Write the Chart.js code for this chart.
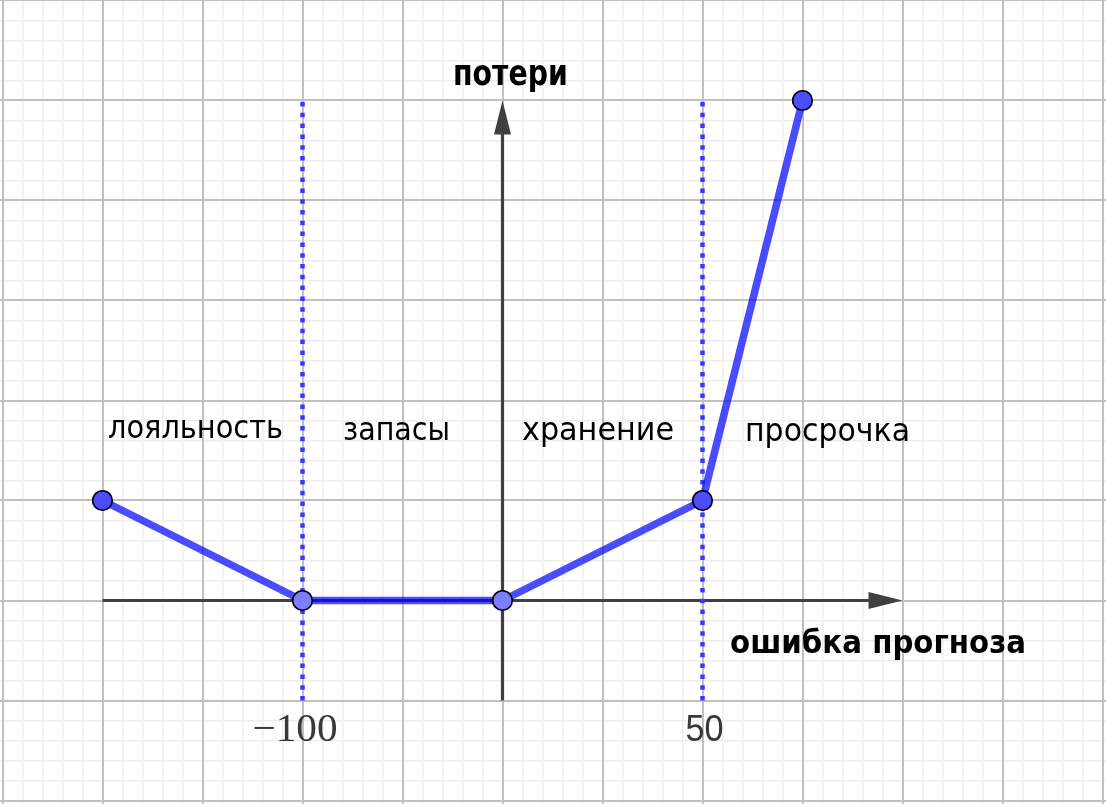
<!DOCTYPE html>
<html>
<head>
<meta charset="utf-8">
<script src="https://cdn.jsdelivr.net/npm/chart.js@4"></script>
<style>
  html, body { margin: 0; padding: 0; background: #ffffff; }
  #wrap { width: 1106px; height: 804px; position: relative; }
</style>
</head>
<body>
<div id="wrap"><canvas id="c" width="1106" height="804"></canvas></div>
<script>
// ---- data (in grid units: one major grid cell = 1) ----
const regionLabels = ['лояльность', 'запасы', 'хранение', 'просрочка'];
const lossX = [-4, -2, 0, 2, 3];
const lossY = [1, 0, 0, 1, 5];
const boundaryX = [-2, 2];
const boundaryYFrom = -1;
const boundaryYTo = 5;
const tickValues = [-2, 2];
const tickLabels = ['−100', '50'];
const xAxisTitle = 'ошибка прогноза';
const yAxisTitle = 'потери';
const axisXRange = [-4, 4];
const axisYRange = [-1, 5];

// ---- view ----
const X_MIN = -5.025, X_MAX = 6.035;
const Y_MIN = -2.035, Y_MAX = 6.005;

function buildTicks(min, max, major) {
  const out = [];
  for (let k = Math.ceil(min * 5); k <= Math.floor(max * 5); k++) {
    const isMajor = k % 5 === 0;
    if (isMajor === major) out.push({ value: k / 5 });
  }
  return out;
}

function gridScale(axis, min, max, major) {
  return {
    type: 'linear',
    axis: axis,
    min: min,
    max: max,
    display: true,
    position: axis === 'x' ? 'bottom' : 'left',
    z: major ? -1 : -2,
    ticks: { display: false, padding: 0 },
    border: { display: false },
    grid: {
      drawTicks: false,
      tickLength: 0,
      color: major ? '#c0c0c0' : '#eeeeee',
      lineWidth: major ? 2 : 1.5
    },
    afterBuildTicks: (s) => { s.ticks = buildTicks(min, max, major); }
  };
}

const lossPoints = lossX.map((x, i) => ({ x: x, y: lossY[i] }));
const pointFill = lossY.map(v => v === 0 ? 'rgb(125,125,255)' : 'rgb(77,77,255)');

const boundarySets = boundaryX.map(x => ({
  label: 'граница',
  data: [{ x: x, y: boundaryYFrom }, { x: x, y: boundaryYTo }],
  showLine: true,
  borderColor: 'rgb(55,55,255)',
  borderWidth: 4.5,
  borderDash: [4.5, 6.3],
  borderCapStyle: 'butt',
  pointRadius: 0,
  order: 2
}));

const textLabels = [
  { text: regionLabels[0], x: -3.945, y: 1.625, w: 175, font: '32px "DejaVu Sans"' },
  { text: regionLabels[1], x: -1.595, y: 1.605, w: 107, font: '32px "DejaVu Sans"' },
  { text: regionLabels[2], x: 0.195, y: 1.605, w: 152, font: '32px "DejaVu Sans"' },
  { text: regionLabels[3], x: 2.425, y: 1.595, w: 165, font: '32px "DejaVu Sans"' },
  { text: yAxisTitle, x: -0.495, y: 5.155, w: 115, font: 'bold 35px "DejaVu Sans"' },
  { text: xAxisTitle, x: 2.275, y: -0.525, w: 296, font: 'bold 32px "DejaVu Sans"' }
];
const tickStyle = [
  { dx: -7.5, y: -1.405, w: 85, font: '40px "Liberation Serif"' },
  { dx: 2, y: -1.405, w: 38, font: '36px "Liberation Sans"' }
];

function fitText(ctx, text, px, py, w, font, color, align) {
  ctx.save();
  ctx.font = font;
  ctx.fillStyle = color;
  ctx.textBaseline = 'alphabetic';
  const m = ctx.measureText(text).width;
  const s = w / m;
  ctx.translate(align === 'center' ? px - w / 2 : px, py);
  ctx.scale(s, 1);
  ctx.textAlign = 'left';
  ctx.fillText(text, 0, 0);
  ctx.restore();
}

const decor = {
  id: 'decor',
  beforeDatasetsDraw(chart) {
    const ctx = chart.ctx, xs = chart.scales.x, ys = chart.scales.y;
    const ox = xs.getPixelForValue(0), oy = ys.getPixelForValue(0);
    const color = 'rgb(64,64,64)';
    ctx.save();
    ctx.strokeStyle = color;
    ctx.fillStyle = color;
    ctx.lineWidth = 3.2;
    // x axis
    const x0 = xs.getPixelForValue(axisXRange[0]), x1 = xs.getPixelForValue(axisXRange[1]);
    ctx.beginPath(); ctx.moveTo(x0, oy); ctx.lineTo(x1 - 30, oy); ctx.stroke();
    ctx.beginPath(); ctx.moveTo(x1, oy); ctx.lineTo(x1 - 34, oy - 8.5); ctx.lineTo(x1 - 34, oy + 8.5); ctx.closePath(); ctx.fill();
    // y axis
    const y0 = ys.getPixelForValue(axisYRange[0]), y1 = ys.getPixelForValue(axisYRange[1]);
    ctx.beginPath(); ctx.moveTo(ox, y0); ctx.lineTo(ox, y1 + 30); ctx.stroke();
    ctx.beginPath(); ctx.moveTo(ox, y1); ctx.lineTo(ox - 8.5, y1 + 34); ctx.lineTo(ox + 8.5, y1 + 34); ctx.closePath(); ctx.fill();
    ctx.restore();
  },
  afterDatasetsDraw(chart) {
    const ctx = chart.ctx, xs = chart.scales.x, ys = chart.scales.y;
    textLabels.forEach(l => {
      fitText(ctx, l.text, xs.getPixelForValue(l.x), ys.getPixelForValue(l.y), l.w, l.font, '#000000', 'left');
    });
    tickValues.forEach((v, i) => {
      const st = tickStyle[i];
      fitText(ctx, tickLabels[i], xs.getPixelForValue(v) + st.dx, ys.getPixelForValue(st.y), st.w, st.font, '#383838', 'center');
    });
  }
};

new Chart(document.getElementById('c'), {
  type: 'scatter',
  data: {
    datasets: [
      {
        label: 'потери',
        data: lossPoints,
        showLine: true,
        borderColor: 'rgba(0,0,255,0.7)',
        borderWidth: 7.5,
        borderCapStyle: 'round',
        borderJoinStyle: 'round',
        pointRadius: 9.8,
        pointHoverRadius: 9.8,
        pointBackgroundColor: pointFill,
        pointBorderColor: '#000000',
        pointBorderWidth: 1.6,
        order: 1
      },
      ...boundarySets
    ]
  },
  options: {
    responsive: false,
    animation: false,
    devicePixelRatio: 1,
    layout: { padding: 0, autoPadding: false },
    plugins: { legend: { display: false }, tooltip: { enabled: false } },
    events: [],
    scales: {
      xMinor: gridScale('x', X_MIN, X_MAX, false),
      yMinor: gridScale('y', Y_MIN, Y_MAX, false),
      x: gridScale('x', X_MIN, X_MAX, true),
      y: gridScale('y', Y_MIN, Y_MAX, true)
    }
  },
  plugins: [decor]
});
</script>
</body>
</html>
